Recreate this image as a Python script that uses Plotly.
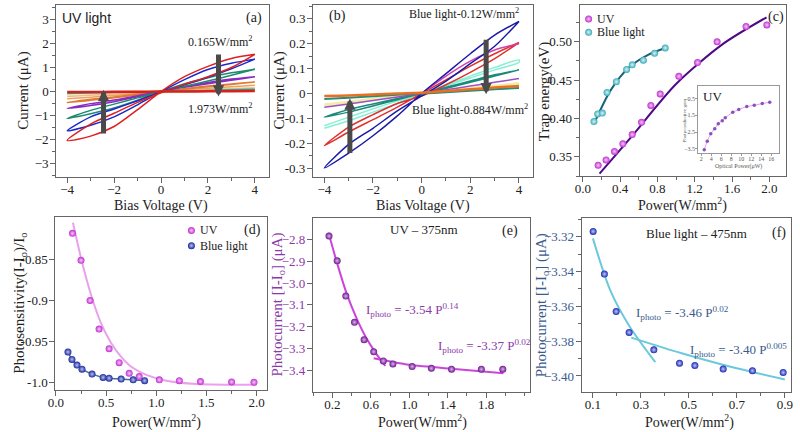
import plotly.graph_objects as go

SERIF = "Liberation Serif"
SANS = "Liberation Sans"

# ---------------- data ----------------
V = [-4, -3, -2, -1, 0, 1, 2, 3, 4]

# (a) UV light I-V loops: two branches each
a_red = ([-2.03, -1.85, -1.45, -0.75, 0.0, 0.62, 1.05, 1.38, 1.55],
         [-2.03, -1.35, -0.9, -0.45, -0.05, 0.3, 0.62, 1.0, 1.55])
a_blue = ([-1.63, -1.4, -1.05, -0.55, 0.0, 0.5, 0.92, 1.18, 1.35],
          [-1.63, -1.05, -0.72, -0.38, -0.02, 0.28, 0.6, 0.95, 1.35])
a_green = ([-1.12, -0.92, -0.68, -0.36, 0.0, 0.33, 0.58, 0.78, 0.93],
           [-1.12, -0.78, -0.52, -0.26, 0.0, 0.22, 0.44, 0.68, 0.93])
a_purple = ([-0.7, -0.58, -0.42, -0.22, 0.0, 0.2, 0.38, 0.52, 0.62],
            [-0.7, -0.5, -0.35, -0.17, 0.02, 0.18, 0.33, 0.47, 0.62])
a_orange = ([-0.45, -0.36, -0.26, -0.13, 0.0, 0.12, 0.23, 0.32, 0.4],
            [-0.45, -0.32, -0.22, -0.1, 0.01, 0.1, 0.2, 0.3, 0.4])
a_lorange = [-0.3, -0.23, -0.16, -0.08, 0.0, 0.07, 0.14, 0.2, 0.26]
a_peach = [-0.2, -0.15, -0.1, -0.05, 0.0, 0.04, 0.08, 0.12, 0.15]
a_yellow = [-0.12, -0.09, -0.06, -0.03, 0.0, 0.03, 0.06, 0.09, 0.12]
a_teal = [-0.08, -0.06, -0.04, -0.02, 0.0, 0.02, 0.05, 0.08, 0.1]
a_flat = [-0.02, -0.015, -0.01, -0.005, 0.0, 0.005, 0.01, 0.015, 0.02]

# (b) Blue light I-V loops
b_blue = ([-0.30, -0.24, -0.17, -0.09, 0.0, 0.08, 0.16, 0.235, 0.29],
          [-0.30, -0.205, -0.14, -0.07, -0.01, 0.05, 0.12, 0.19, 0.29])
b_red = ([-0.21, -0.155, -0.105, -0.055, 0.0, 0.055, 0.11, 0.16, 0.205],
         [-0.21, -0.135, -0.085, -0.04, -0.01, 0.035, 0.085, 0.14, 0.205])
V_half = [0, 1, 2, 3, 4]
b_magenta = [0.0, 0.07, 0.13, 0.175, 0.2]
b_aqua = ([-0.14, -0.11, -0.075, -0.04, 0.0, 0.035, 0.07, 0.105, 0.135],
          [-0.13, -0.095, -0.062, -0.03, 0.0, 0.03, 0.062, 0.095, 0.125])
b_teal = ([-0.095, -0.075, -0.05, -0.025, 0.0, 0.025, 0.05, 0.075, 0.095],
          [-0.095, -0.065, -0.042, -0.02, 0.0, 0.02, 0.045, 0.07, 0.095])
b_purple = [-0.055, -0.042, -0.028, -0.014, 0.0, 0.015, 0.03, 0.045, 0.06]
b_yellow = [-0.045, -0.035, -0.022, -0.011, 0.0, 0.01, 0.02, 0.03, 0.04]
b_teal2 = [-0.022, -0.017, -0.011, -0.005, 0.0, 0.005, 0.011, 0.017, 0.022]
b_orange = [-0.01, -0.008, -0.004, 0.0, 0.003, 0.01, 0.017, 0.024, 0.03]

# (c) trap energy
c_uv_p = [0.165, 0.25, 0.34, 0.43, 0.53, 0.63, 0.73, 0.83, 1.03, 1.23, 1.44, 1.75, 1.973]
c_uv_e = [0.339, 0.346, 0.357, 0.367, 0.379, 0.395, 0.417, 0.432, 0.455, 0.473, 0.500, 0.520, 0.522]
c_bl_p = [0.12, 0.16, 0.21, 0.26, 0.36, 0.47, 0.53, 0.65, 0.77, 0.884]
c_bl_e = [0.396, 0.406, 0.407, 0.434, 0.448, 0.464, 0.470, 0.476, 0.485, 0.492]
c_uv_fit_p = [0.18, 0.5, 1.0, 1.5, 1.97]
c_uv_fit_e = [0.328, 0.373, 0.445, 0.497, 0.532]
c_bl_fit_p = [0.12, 0.3, 0.5, 0.7, 0.884]
c_bl_fit_e = [0.393, 0.437, 0.467, 0.483, 0.492]

# inset
in_p = [2.6, 3.2, 3.9, 4.7, 5.4, 6.2, 6.8, 8.3, 9.5, 11.1, 12.6, 14.2, 15.7]
in_g = [-3.55, -3.05, -2.6, -2.3, -2.0, -1.82, -1.65, -1.32, -1.15, -0.98, -0.9, -0.8, -0.72]

# (d) photosensitivity
d_uv_s = [-0.818, -0.851, -0.90, -0.935, -0.959, -0.976, -0.989, -0.993, -0.997, -0.998, -0.999, -0.9995, -1.0]
d_bl_s = [-0.963, -0.972, -0.979, -0.984, -0.990, -0.994, -0.995, -0.996, -0.997, -0.998]
d_uv_fit_p = [0.17, 0.25, 0.35, 0.45, 0.55, 0.65, 0.75, 0.9, 1.1, 1.4, 2.0]
d_uv_fit_s = [-0.805, -0.848, -0.893, -0.928, -0.952, -0.969, -0.981, -0.991, -0.998, -1.002, -1.003]

# (e) UV photocurrent
e_i = [-2.785, -2.898, -3.06, -3.18, -3.26, -3.315, -3.357, -3.371, -3.383, -3.391, -3.395, -3.395, -3.395]
e_fit1_p = [0.16, 0.25, 0.35, 0.45, 0.55, 0.65, 0.75]
e_fit1_i = [-2.77, -2.91, -3.05, -3.16, -3.25, -3.32, -3.38]
e_fit2_p = [0.63, 1.0, 1.5, 1.98]
e_fit2_i = [-3.345, -3.375, -3.395, -3.413]

# (f) blue photocurrent
f_p = [0.101, 0.148, 0.197, 0.251, 0.354, 0.461, 0.525, 0.643, 0.765, 0.893]
f_i = [-3.317, -3.3415, -3.363, -3.375, -3.385, -3.3927, -3.394, -3.396, -3.397, -3.398]
f_fit1_p = [0.1, 0.173, 0.255, 0.36]
f_fit1_i = [-3.321, -3.351, -3.372, -3.392]
f_fit2_p = [0.26, 0.47, 0.67, 0.9]
f_fit2_i = [-3.378, -3.387, -3.3946, -3.402]

# ---------------- figure ----------------
fig = go.Figure()

def loop(xa, ya, br, color, width=1.5):
    b1, b2 = br
    fig.add_trace(go.Scatter(x=V + V[::-1], y=b1 + b2[::-1], mode="lines",
                             line=dict(color=color, width=width, shape="spline", smoothing=0.8),
                             xaxis=xa, yaxis=ya, showlegend=False, hoverinfo="skip"))

def single(xa, ya, xs, ys, color, width=1.5):
    fig.add_trace(go.Scatter(x=xs, y=ys, mode="lines",
                             line=dict(color=color, width=width, shape="spline", smoothing=0.8),
                             xaxis=xa, yaxis=ya, showlegend=False, hoverinfo="skip"))

def spheres(xa, ya, xs, ys, color, hl, size=7):
    fig.add_trace(go.Scatter(x=xs, y=ys, mode="markers",
                             marker=dict(size=size, color=color,
                                         gradient=dict(type="radial", color=hl),
                                         line=dict(width=0)),
                             xaxis=xa, yaxis=ya, showlegend=False, hoverinfo="skip"))

# (a)
single("x", "y", V, a_yellow, "#f7efb8", 4)
single("x", "y", V, a_peach, "#f3b890")
single("x", "y", V, a_lorange, "#eea060")
loop("x", "y", a_orange, "#e07a30")
loop("x", "y", a_purple, "#8a2ac0")
loop("x", "y", a_green, "#1e8a6e")
loop("x", "y", a_blue, "#1a2acc")
loop("x", "y", a_red, "#e02020")
single("x", "y", V, a_teal, "#30a090")
single("x", "y", V, a_flat, "#d82020", 2.5)

# (b)
single("x2", "y2", V, b_yellow, "#f3eba8", 3)
loop("x2", "y2", b_aqua, "#86f0d4")
loop("x2", "y2", b_teal, "#1a8a7a")
single("x2", "y2", V, b_purple, "#9a50c8")
loop("x2", "y2", b_red, "#e03030")
single("x2", "y2", V_half, b_magenta, "#d040b0")
loop("x2", "y2", b_blue, "#1a1aa8")
single("x2", "y2", V, b_teal2, "#2a8a7a", 2)
single("x2", "y2", V, b_orange, "#e87020", 2.5)

# (c)
single("x3", "y3", c_bl_fit_p, c_bl_fit_e, "#1a6478", 2)
single("x3", "y3", c_uv_fit_p, c_uv_fit_e, "#4e0a86", 2)
spheres("x3", "y3", c_bl_p, c_bl_e, "#3aaab8", "#d8f4f6", 7)
spheres("x3", "y3", c_uv_p, c_uv_e, "#c030d0", "#f6c8f8", 7)
spheres("x3", "y3", [0.063], [0.5297], "#c030d0", "#f6c8f8", 7)
spheres("x3", "y3", [0.063], [0.5125], "#3aaab8", "#d8f4f6", 7)

# inset
fig.add_trace(go.Scatter(x=in_p, y=in_g, mode="lines+markers",
                         line=dict(color="#e0a0e6", width=1, shape="spline"),
                         marker=dict(size=3.5, color="#8a50c0"),
                         xaxis="x4", yaxis="y4", showlegend=False, hoverinfo="skip"))

# (d)
single("x5", "y5", d_uv_fit_p, d_uv_fit_s, "#eaa0ec", 2)
single("x5", "y5", c_bl_p, d_bl_s, "#4a6a9a", 1.5)
spheres("x5", "y5", c_uv_p, d_uv_s, "#c030d0", "#f6c8f8", 7)
spheres("x5", "y5", c_bl_p, d_bl_s, "#1a2a9a", "#b8c0f0", 7)
spheres("x5", "y5", [1.35], [-0.8145], "#c030d0", "#f6c8f8", 7)
spheres("x5", "y5", [1.35], [-0.833], "#1a2a9a", "#b8c0f0", 7)

# (e)
single("x6", "y6", e_fit1_p, e_fit1_i, "#cc44dd", 2)
single("x6", "y6", e_fit2_p, e_fit2_i, "#cc44dd", 2)
spheres("x6", "y6", c_uv_p, e_i, "#6a1a8a", "#e0b0f0", 7)

# (f)
single("x7", "y7", f_fit1_p, f_fit1_i, "#6cc8dc", 2)
single("x7", "y7", f_fit2_p, f_fit2_i, "#6cc8dc", 2)
spheres("x7", "y7", f_p, f_i, "#1a2ab0", "#c0c8ff", 7)

# ---------------- axes ----------------
W, H = 800, 432
def xd(l, r):
    return [l / W, r / W]
def yd(t, b):
    return [1 - b / H, 1 - t / H]

tickf = dict(family=SERIF, size=13, color="#222")
PURP = "#8a3aa8"
BLU = "#3a5a8e"

def ax(domain, rng, anchor, **kw):
    d = dict(domain=domain, range=rng, anchor=anchor, showline=True, linecolor="#666",
             linewidth=1.3, mirror=True, ticks="outside", ticklen=5, tickcolor="#666",
             showgrid=False, zeroline=False, tickfont=tickf)
    d.update(kw)
    return d

def xa_(domain, rng, anchor, **kw):
    return ax(domain, rng, anchor, ticklabelstandoff=-5, **kw)

def ya_(domain, rng, anchor, **kw):
    return ax(domain, rng, anchor, ticklabelstandoff=-1, **kw)

def mn(dt, t0=None):
    m = dict(ticks="outside", dtick=dt, ticklen=3, tickcolor="#666")
    if t0 is not None:
        m["tick0"] = t0
    return m

lay = dict(width=W, height=H, margin=dict(l=0, r=0, t=0, b=0),
           paper_bgcolor="white", plot_bgcolor="white", showlegend=False)

lay["xaxis"] = xa_(xd(49, 264), [-4.46, 4.59], "y", tickvals=[-4, -2, 0, 2, 4], minor=mn(1))
lay["yaxis"] = ya_(yd(5, 177), [-3.55, 3.6], "x", tickvals=[-3, -2, -1, 0, 1, 2, 3], minor=mn(0.5))

lay["xaxis2"] = xa_(xd(309, 532), [-4.46, 4.59], "y2", tickvals=[-4, -2, 0, 2, 4], minor=mn(1))
lay["yaxis2"] = ya_(yd(5, 177), [-0.336, 0.356], "x2",
                    tickvals=[-0.3, -0.2, -0.1, 0, 0.1, 0.2, 0.3],
                    ticktext=["-0.3", "-0.2", "-0.1", "0", "0.1", "0.2", "0.3"], minor=mn(0.05))

lay["xaxis3"] = xa_(xd(579, 788), [-0.032, 2.18], "y3", tickvals=[0, 0.4, 0.8, 1.2, 1.6, 2.0],
                    tickformat=".1f", minor=mn(0.2))
lay["yaxis3"] = ya_(yd(5, 176), [0.325, 0.548], "x3", tickvals=[0.35, 0.40, 0.45, 0.50],
                    tickformat=".2f", minor=mn(0.025))

tinyf = dict(family=SERIF, size=6, color="#555")
lay["xaxis4"] = dict(domain=xd(699, 781), range=[1.4, 17.6], anchor="y4", showline=True,
                     linecolor="#999", linewidth=1, mirror=True, ticks="outside", ticklen=2,
                     tickcolor="#999", showgrid=False, zeroline=False, ticklabelstandoff=-2,
                     tickvals=[2, 4, 6, 8, 10, 12, 14, 16], tickfont=tinyf)
lay["yaxis4"] = dict(domain=yd(86, 153), range=[-3.75, 0.25], anchor="x4", showline=True,
                     linecolor="#999", linewidth=1, mirror=True, ticks="outside", ticklen=2,
                     tickcolor="#999", showgrid=False, zeroline=False, ticklabelstandoff=-1,
                     tickvals=[-3.5, -2.5, -1.5, -0.5], tickfont=tinyf)

lay["xaxis5"] = xa_(xd(48, 262), [-0.005, 2.1], "y5", tickvals=[0, 0.5, 1.0, 1.5, 2.0],
                    tickformat=".1f", minor=mn(0.25))
lay["yaxis5"] = ya_(yd(217, 390), [-1.0094, -0.798], "x5",
                    tickvals=[-1.0, -0.95, -0.9, -0.85], ticktext=["-1.0", "-0.95", "-0.9", "-0.85"])

lay["xaxis6"] = xa_(xd(309, 529), [0.0, 2.26], "y6", tickvals=[0.2, 0.6, 1.0, 1.4, 1.8],
                    tickformat=".1f", minor=mn(0.2, 0))
lay["yaxis6"] = ya_(yd(218, 392), [-3.4995, -2.702], "x6",
                    tickvals=[-3.4, -3.3, -3.2, -3.1, -3.0, -2.9, -2.8], tickformat=".1f",
                    tickfont=dict(family=SERIF, size=13, color=PURP))

lay["xaxis7"] = xa_(xd(581, 793), [0.0535, 0.926], "y7", tickvals=[0.1, 0.3, 0.5, 0.7, 0.9],
                    tickformat=".1f", minor=mn(0.1, 0))
lay["yaxis7"] = ya_(yd(218, 392), [-3.4092, -3.3093], "x7",
                    tickvals=[-3.40, -3.38, -3.36, -3.34, -3.32], tickformat=".2f",
                    minor=mn(0.01), tickfont=dict(family=SERIF, size=13, color=BLU))

# ---------------- annotations ----------------
anns = []
def txt(xr, yr, x, y, s, size=13, color="#222", family=SERIF, xanchor="center"):
    anns.append(dict(xref=xr, yref=yr, x=x, y=y, text=s, showarrow=False, xanchor=xanchor,
                     yanchor="middle", font=dict(family=family, size=size, color=color)))

def ptitle(px, py, s, size=15, color="#222", angle=0):
    anns.append(dict(xref="paper", yref="paper", x=px / W, y=1 - py / H, text=s, showarrow=False,
                     xanchor="center", yanchor="middle", textangle=angle,
                     font=dict(family=SERIF, size=size, color=color)))

def arrow(xr, yr, x, y, ax_, ay_):
    anns.append(dict(xref=xr, yref=yr, axref=xr, ayref=yr, x=x, y=y, ax=ax_, ay=ay_, text="",
                     showarrow=True, arrowhead=2, arrowsize=0.45, arrowwidth=5,
                     arrowcolor="#4a4a4a"))

# axis titles
ptitle(155, 206, "Bias Voltage (V)", 14)
ptitle(15, 91, "Current (μA)", 15, angle=-90)
ptitle(420, 206, "Bias Voltage (V)", 14)
ptitle(274, 91, "Current (μA)", 15, angle=-90)
ptitle(683, 204, "Power(W/mm<sup>2</sup>)", 14)
ptitle(543, 91, "Trap energy(eV)", 15, angle=-90)
ptitle(150, 421, "Power(W/mm<sup>2</sup>)", 14)
ptitle(12, 303, "Photosensitivity(I-I<sub>o</sub>)/I<sub>o</sub>", 15, angle=-90)
ptitle(420, 421, "Power(W/mm<sup>2</sup>)", 14)
ptitle(273, 305, "Photocurrent [I-I<sub>o</sub>] (μA)", 15, color=PURP, angle=-90)
ptitle(690, 421, "Power(W/mm<sup>2</sup>)", 14)
ptitle(541, 305, "Photocurrent [I-I<sub>o</sub>] (μA)", 15, color=BLU, angle=-90)
# inset titles
ptitle(740, 166, "Optical Power(μW)", size=6, color="#555")
ptitle(685, 120, "Photoconductive gain", size=5, color="#555", angle=-90)

# (a)
txt("x", "y", -4.3, 3.05, "UV light", 14, family=SANS, xanchor="left")
txt("x", "y", 3.95, 3.05, "(a)", 14)
txt("x", "y", 2.55, 2.1, "0.165W/mm<sup>2</sup>", 12)
txt("x", "y", 2.55, -0.7, "1.973W/mm<sup>2</sup>", 12)
arrow("x", "y", -2.45, 0.08, -2.45, -1.8)
arrow("x", "y", 2.45, -0.2, 2.45, 1.6)

# (b)
txt("x2", "y2", -3.45, 0.31, "(b)", 14)
txt("x2", "y2", 1.75, 0.32, "Blue light-0.12W/mm<sup>2</sup>", 12)
txt("x2", "y2", 2.0, -0.065, "Blue light-0.884W/mm<sup>2</sup>", 12)
arrow("x2", "y2", -2.95, -0.02, -2.95, -0.245)
arrow("x2", "y2", 2.65, -0.003, 2.65, 0.222)

# (c)
txt("x3", "y3", 2.07, 0.532, "(c)", 14)
txt("x3", "y3", 0.13, 0.5297, "UV", 12, xanchor="left")
txt("x3", "y3", 0.13, 0.5125, "Blue light", 12, xanchor="left")
txt("x4", "y4", 2.0, -0.35, "UV", 13, xanchor="left")

# (d)
txt("x5", "y5", 1.42, -0.8145, "UV", 12, xanchor="left")
txt("x5", "y5", 1.42, -0.833, "Blue light", 12, xanchor="left")
txt("x5", "y5", 1.96, -0.8145, "(d)", 14)

# (e)
txt("x6", "y6", 1.15, -2.755, "UV – 375nm", 13)
txt("x6", "y6", 2.05, -2.76, "(e)", 14)
txt("x6", "y6", 0.53, -3.125, "I<sub>photo</sub> = -3.54 P<sup>0.14</sup>", 13, color=PURP, xanchor="left")
txt("x6", "y6", 1.28, -3.29, "I<sub>photo</sub> = -3.37 P<sup>0.02</sup>", 13, color=PURP, xanchor="left")

# (f)
txt("x7", "y7", 0.53, -3.318, "Blue light – 475nm", 13)
txt("x7", "y7", 0.875, -3.318, "(f)", 14)
txt("x7", "y7", 0.27, -3.364, "I<sub>photo</sub> = -3.46 P<sup>0.02</sup>", 13, color=BLU, xanchor="left")
txt("x7", "y7", 0.495, -3.385, "I<sub>photo</sub> = -3.40 P<sup>0.005</sup>", 13, color=BLU, xanchor="left")

lay["annotations"] = anns
fig.update_layout(**lay)
fig.write_html("out.html")
